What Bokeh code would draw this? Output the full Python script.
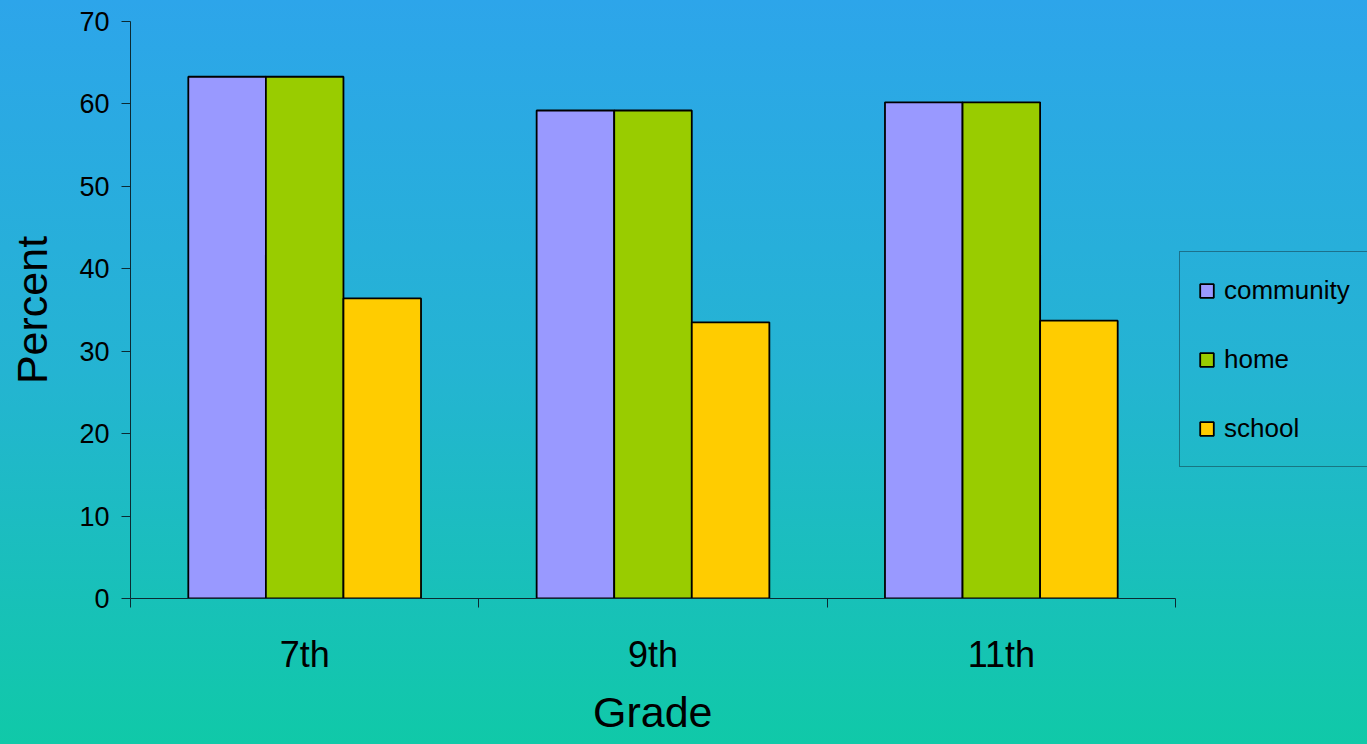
from bokeh.plotting import figure
from bokeh.models import (ColumnDataSource, FixedTicker, Legend, LegendItem,
                          GlobalInlineStyleSheet, Range1d, Title)
from bokeh.transform import dodge
from bokeh.embed import file_html
from bokeh.resources import INLINE

grades = ["7th", "9th", "11th"]
community = [63.3, 59.2, 60.2]
home = [63.3, 59.2, 60.2]
school = [36.4, 33.5, 33.7]
series_names = ["community", "home", "school"]
series_colors = ["#9999FF", "#99CC00", "#FFCC00"]
y_ticks = [0, 10, 20, 30, 40, 50, 60, 70]
x_title = "Grade"
y_title = "Percent"

xc = [i + 0.5 for i in range(len(grades))]
src = ColumnDataSource(dict(x=xc, grade=grades, community=community, home=home, school=school))

FONT = "Liberation Sans"
W, H = 1367, 744
LEFT, AXIS_W = 130, 1045          # frame left edge and width of the drawn category axis (px)
n = len(grades)
x_end = n * (W - LEFT) / AXIS_W   # frame extends under the legend; axis drawn only over categories

p = figure(width=W, height=H, output_backend="svg", toolbar_location=None,
           x_range=Range1d(0, x_end), y_range=Range1d(0, 70),
           min_border_left=LEFT, min_border_top=21, min_border_right=0, min_border_bottom=146)
p.background_fill_color = None
p.border_fill_color = None
p.outline_line_color = None
p.grid.visible = False

bw = 0.2227
offsets = [-bw, 0.0, bw]
renderers = []
for name, col, off in zip(series_names, series_colors, offsets):
    r = p.vbar(x=dodge("x", off, range=p.x_range), top=name, width=bw, source=src,
               fill_color=col, line_color="black", line_width=1.8)
    renderers.append(r)

# x axis
p.xaxis.bounds = (0, n)
p.xaxis.ticker = FixedTicker(ticks=xc, minor_ticks=list(range(n + 1)))
p.xaxis.major_label_overrides = {x: g for x, g in zip(xc, grades)}
p.xaxis.major_tick_out = 0
p.xaxis.major_tick_in = 0
p.xaxis.minor_tick_out = 9
p.xaxis.minor_tick_in = 0
p.xaxis.major_label_text_font_size = "36px"
p.xaxis.major_label_standoff = 26

# x axis title, centred under the category axis (not under the whole frame)
xt = Title(text=x_title, align="left", offset=AXIS_W / 2 - 60, standoff=17,
           text_font=FONT, text_font_size="43px", text_font_style="normal", text_color="black")
p.add_layout(xt, "below")

# y axis
p.yaxis.ticker = FixedTicker(ticks=y_ticks, minor_ticks=[])
p.yaxis.major_tick_out = 9
p.yaxis.major_tick_in = 0
p.yaxis.major_label_text_font_size = "27px"
p.yaxis.major_label_standoff = 12
p.yaxis.axis_label = y_title
p.yaxis.axis_label_text_font_size = "43px"
p.yaxis.axis_label_standoff = 20

for ax in (p.xaxis, p.yaxis):
    ax.axis_line_color = "#0b2a33"
    ax.major_tick_line_color = "#0b2a33"
    ax.minor_tick_line_color = "#0b2a33"
    ax.major_label_text_color = "black"
    ax.axis_label_text_color = "black"
    ax.major_label_text_font = FONT
    ax.axis_label_text_font = FONT
    ax.axis_label_text_font_style = "normal"

legend = Legend(items=[LegendItem(label=nm, renderers=[r]) for nm, r in zip(series_names, renderers)],
                location=(1049, 131), orientation="vertical")
legend.label_text_font = FONT
legend.label_text_font_size = "26px"
legend.label_text_color = "black"
legend.glyph_width = 17
legend.glyph_height = 17
legend.label_height = 40
legend.label_standoff = 9
legend.spacing = 29
legend.padding = 18
legend.margin = 0
legend.background_fill_alpha = 0
legend.border_line_color = "#12343d"
legend.border_line_width = 1
p.add_layout(legend, "center")

p.stylesheets = [GlobalInlineStyleSheet(
    css="html { min-height: 100%; background: linear-gradient(to bottom, #2DA5EA 0%, #24B4D2 50%, #10C9A8 100%) fixed; } body { background: transparent; }")]

open("out.html", "w").write(file_html(p, INLINE))
